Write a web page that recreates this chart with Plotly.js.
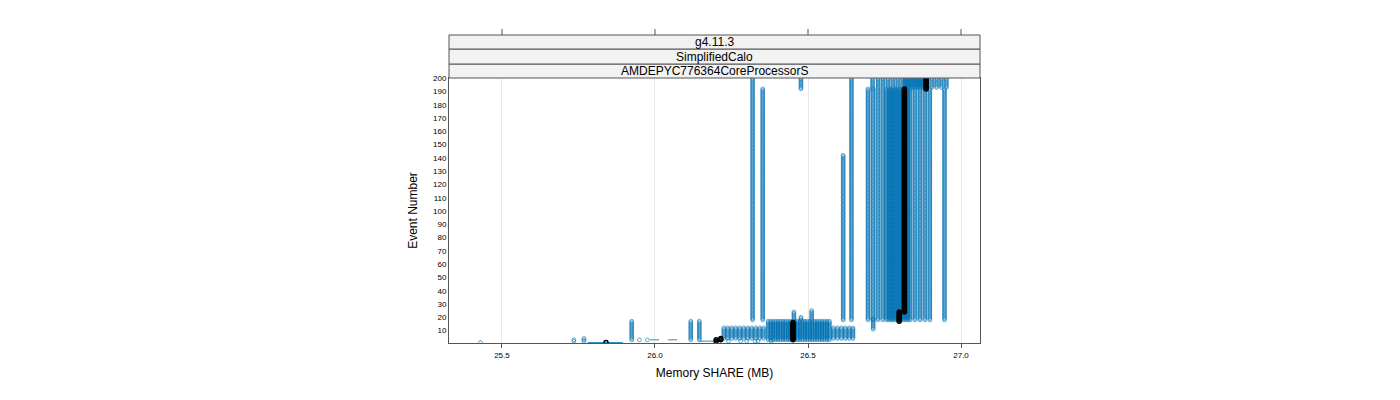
<!DOCTYPE html>
<html>
<head>
<meta charset="utf-8">
<script src="https://cdn.plot.ly/plotly-3.0.1.min.js"></script>
<style>
  body { margin: 0; background: #fff; }
  #chart { width: 1400px; height: 400px; }
</style>
</head>
<body>
<div id="chart"></div>
<script>
// blue runs: memory value held from event "from" to event "to"
var blueX = [
  25.430, 25.735, 25.768, 25.924, 25.949, 25.975, 26.117, 26.145,
  26.240, 26.280, 26.300, 26.327, 26.337, 26.380,
  26.319, 26.352, 26.454, 26.477, 26.512, 26.477, 26.615, 26.642,
  26.713, 26.711, 26.946,
  // lower hatch
  26.225, 26.238, 26.251, 26.264, 26.277, 26.290, 26.303, 26.316, 26.329, 26.342, 26.355,
  // lower dense
  26.370, 26.378, 26.386, 26.394, 26.402, 26.410, 26.418, 26.426, 26.434, 26.442,
  26.450, 26.458, 26.466, 26.474, 26.482, 26.490, 26.498, 26.506, 26.514, 26.522,
  26.530, 26.538, 26.546, 26.554, 26.562, 26.570,
  // lower right hatch
  26.583, 26.596, 26.609, 26.622, 26.635, 26.647,
  // upper hatch
  26.696, 26.712, 26.728, 26.744,
  26.757, 26.764, 26.771, 26.778, 26.785, 26.792, 26.799, 26.806, 26.813, 26.820, 26.827, 26.834,
  26.850, 26.866, 26.882, 26.898,
  // top block
  26.729, 26.745, 26.761, 26.777, 26.793, 26.809,
  26.817, 26.824, 26.831, 26.838, 26.845, 26.852, 26.859, 26.866, 26.873, 26.880, 26.888,
  26.904, 26.920, 26.936, 26.952
];
var blueFrom = [
  1, 2, 2, 3, 3, 3, 3, 3,
  2, 2, 2, 2, 2, 2,
  18, 18, 18, 18, 18, 192, 18, 18,
  11, 192, 18,
  4, 4, 4, 4, 4, 4, 4, 4, 4, 4, 4,
  3, 3, 3, 3, 3, 3, 3, 3, 3, 3,
  3, 3, 3, 3, 3, 3, 3, 3, 3, 3,
  3, 3, 3, 3, 3, 3,
  4, 4, 4, 4, 4, 4,
  18, 18, 18, 18,
  18, 18, 18, 18, 18, 18, 18, 18, 18, 18, 18, 18,
  18, 18, 18, 18,
  193, 193, 193, 193, 193, 193,
  193, 193, 193, 193, 193, 193, 193, 193, 193, 193, 193,
  193, 193, 193, 193
];
var blueTo = [
  1, 3, 4, 17, 3, 3, 17, 17,
  2, 2, 2, 2, 2, 2,
  200, 192, 24, 20, 25, 200, 142, 200,
  19, 200, 192,
  12, 12, 12, 12, 12, 12, 12, 12, 12, 12, 12,
  17, 17, 17, 17, 17, 17, 17, 17, 17, 17,
  17, 17, 17, 17, 17, 17, 17, 17, 17, 17,
  17, 17, 17, 17, 17, 17,
  12, 12, 12, 12, 12, 12,
  192, 192, 192, 192,
  192, 192, 192, 192, 192, 192, 192, 192, 192, 192, 192, 192,
  192, 192, 192, 192,
  200, 200, 200, 200, 200, 200,
  200, 200, 200, 200, 200, 200, 200, 200, 200, 200, 200,
  200, 200, 200, 200
];

// blue connecting lines between runs
var linkX0 = [25.781, 25.984, 26.145];
var linkX1 = [25.895, 26.100, 26.212];
var linkY = [1, 3, 2];
var linkDash = ["solid", "dash", "solid"];

// black (single job)
var blackX = [25.840, 26.200, 26.215, 26.451, 26.798, 26.815, 26.886];
var blackFrom = [1, 2, 3, 3, 17, 24, 192];
var blackTo = [1, 3, 4, 16, 24, 192, 199];

var xTicks = [25.5, 26.0, 26.5, 27.0];
var xTickText = ["25.5", "26.0", "26.5", "27.0"];
var yTicks = [10, 20, 30, 40, 50, 60, 70, 80, 90, 100, 110, 120, 130, 140, 150, 160, 170, 180, 190, 200];
var stripLabels = ["g4.11.3", "SimplifiedCalo", "AMDEPYC776364CoreProcessorS"];

function expandRuns(xs, from, to) {
  let x = [], y = [];
  for (let i = 0; i < xs.length; i++) {
    for (let e = from[i]; e <= to[i]; e++) {
      x.push(xs[i]);
      y.push(e);
    }
    x.push(null);
    y.push(null);
  }
  return { x: x, y: y };
}

let blue = expandRuns(blueX, blueFrom, blueTo);
let black = expandRuns(blackX, blackFrom, blackTo);

let traces = [];

for (let i = 0; i < linkX0.length; i++) {
  traces.push({
    x: [linkX0[i], linkX1[i]],
    y: [linkY[i], linkY[i]],
    type: "scatter",
    mode: "lines",
    line: { color: "rgba(0,114,178,0.8)", width: 1, dash: linkDash[i] },
    hoverinfo: "skip"
  });
}

traces.push({
  x: blue.x,
  y: blue.y,
  type: "scatter",
  mode: "markers",
  marker: {
    symbol: "circle-open",
    size: 3.8,
    color: "rgba(0,114,178,0.6)",
    line: { width: 1, color: "rgba(0,114,178,0.6)" }
  }
});

traces.push({
  x: black.x,
  y: black.y,
  type: "scatter",
  mode: "lines+markers",
  connectgaps: false,
  line: { color: "black", width: 2 },
  marker: {
    symbol: "circle-open",
    size: 4,
    color: "black",
    line: { width: 1.5, color: "black" }
  }
});

// strips and top ticks drawn above the panel, in paper units
let plotH = 265;
function paperY(px) { return (343 - px) / plotH; }

let stripEdges = [78, 64, 49, 35];
let shapes = [];
let annotations = [];
for (let i = 0; i < stripLabels.length; i++) {
  let yb = paperY(stripEdges[i]);
  let yt = paperY(stripEdges[i + 1]);
  shapes.push({
    type: "rect", xref: "paper", yref: "paper",
    x0: 0, x1: 1, y0: yb, y1: yt,
    fillcolor: "#f2f2f2",
    line: { color: "#555", width: 1 },
    layer: "above"
  });
  annotations.push({
    text: stripLabels[2 - i],
    xref: "paper", yref: "paper",
    x: 0.5, y: (yb + yt) / 2,
    showarrow: false,
    font: { family: "Liberation Sans, Arial, sans-serif", size: 12, color: "#000" },
    xanchor: "center", yanchor: "middle"
  });
}
for (let t of xTicks) {
  shapes.push({
    type: "line", xref: "x", yref: "paper",
    x0: t, x1: t, y0: paperY(35), y1: paperY(29),
    line: { color: "#555", width: 1 }
  });
}

let layout = {
  width: 1400,
  height: 400,
  margin: { l: 449, r: 420, t: 78, b: 57 },
  paper_bgcolor: "#fff",
  plot_bgcolor: "#fff",
  showlegend: false,
  font: { family: "Liberation Sans, Arial, sans-serif", color: "#000" },
  xaxis: {
    range: [25.327, 27.062],
    tickvals: xTicks,
    ticktext: xTickText,
    tickfont: { size: 8 },
    ticks: "outside",
    ticklen: 4,
    tickcolor: "#555",
    showgrid: true,
    gridcolor: "#e8e8e8",
    zeroline: false,
    showline: true,
    mirror: true,
    linecolor: "#555",
    linewidth: 1,
    title: { text: "Memory SHARE (MB)", font: { size: 12 }, standoff: 10 }
  },
  yaxis: {
    range: [0.6, 200.2],
    tickvals: yTicks,
    tickfont: { size: 8 },
    ticks: "",
    showgrid: false,
    zeroline: false,
    showline: true,
    mirror: true,
    linecolor: "#555",
    linewidth: 1,
    title: { text: "Event Number", font: { size: 12 }, standoff: 12 }
  },
  shapes: shapes,
  annotations: annotations
};

Plotly.newPlot("chart", traces, layout, { displayModeBar: false, staticPlot: true });
</script>
</body>
</html>
